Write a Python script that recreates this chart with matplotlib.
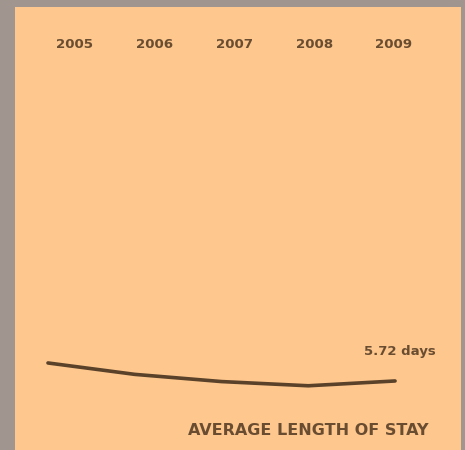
import matplotlib.pyplot as plt

# Average length of stay per year (days)
years = [2005, 2006, 2007, 2008, 2009]
year_labels = ["2005", "2006", "2007", "2008", "2009"]
stay_days = [6.02, 5.83, 5.71, 5.64, 5.72]
end_label = "5.72 days"
title = "AVERAGE LENGTH OF STAY"

bg_gray = "#a0958f"
panel = "#fdc78d"
ink = "#5a4129"
text_ink = "#6a4d31"

fig = plt.figure(figsize=(4.65, 4.5), dpi=100)
fig.patch.set_facecolor(bg_gray)

# orange panel holding the line
ax = fig.add_axes([15 / 465, 0, 446 / 465, 443 / 450])
ax.set_facecolor(panel)
for s in ax.spines.values():
    s.set_visible(False)
ax.set_xticks([])
ax.set_yticks([])
ax.set_xlim(2004.62, 2009.76)
ax.set_ylim(4.57, 11.95)

ax.plot(years, stay_days, color=ink, lw=2.6, solid_capstyle="round")

# year headings along the top
ax2 = ax.twiny()
ax2.set_xlim(2004.248, 2009.84)
ax2.set_xticks([])
for s in ax2.spines.values():
    s.set_visible(False)
for yr, lab in zip(years, year_labels):
    ax2.text(yr, 0.915, lab, transform=ax2.get_xaxis_transform(),
             ha="center", va="center", fontsize=9.6, fontweight="bold",
             color=text_ink)

ax.annotate(end_label, (years[-1], stay_days[-1]), xytext=(41, 29),
            textcoords="offset pixels", ha="right", va="center",
            fontsize=9.5, fontweight="bold", color=text_ink)

ax.text(0.928, 0.045, title, transform=ax.transAxes, ha="right", va="center",
        fontsize=11.5, fontweight="bold", color=text_ink)

fig.savefig("out.png", dpi=100, facecolor=fig.get_facecolor())
